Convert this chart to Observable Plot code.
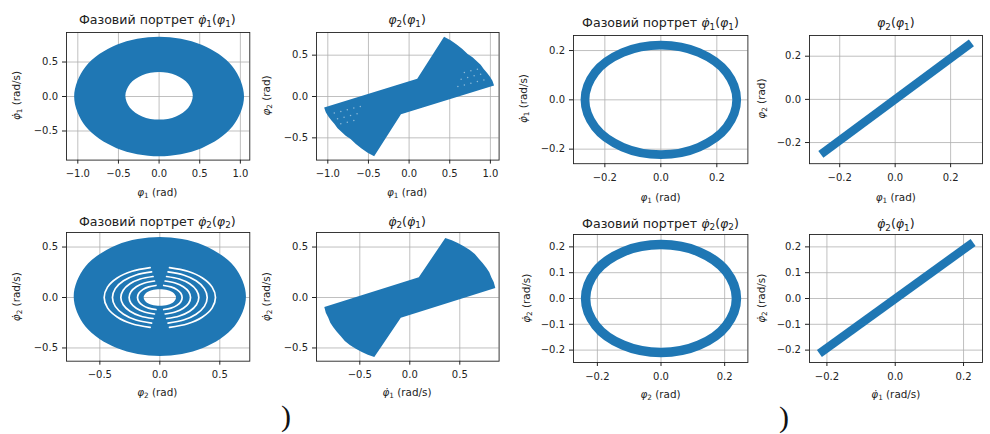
<!DOCTYPE html>
<html><head><meta charset="utf-8">
<script src="https://cdn.jsdelivr.net/npm/d3@7"></script>
<script src="https://cdn.jsdelivr.net/npm/@observablehq/plot@0.6"></script>
<style>
body{margin:0;background:#fff;}
#fig{position:relative;width:990px;height:434px;overflow:hidden;background:#fff;}
</style></head><body><div id="fig"></div>
<script>
// ---- data ----
const ticksWide = [-1, -0.5, 0, 0.5, 1];
const ticksHalf = [-0.5, 0, 0.5];
const ticksTwo = [-0.2, 0, 0.2];
const ticksTenth = [-0.2, -0.1, 0, 0.1, 0.2];

// panel 1: annulus phi1' vs phi1 (outer boundary, inner hole reversed)
const p1OuterX = [1.045, 0.905, 0.523, 0, -0.523, -0.905, -1.045, -0.905, -0.523, 0, 0.523, 0.905];
const p1OuterY = [0, 0.433, 0.749, 0.865, 0.749, 0.433, 0, -0.433, -0.749, -0.865, -0.749, -0.433];
const p1HoleX = [0.415, 0.359, 0.208, 0, -0.208, -0.359, -0.415, -0.359, -0.208, 0, 0.208, 0.359];
const p1HoleY = [0.01, -0.163, -0.289, -0.335, -0.289, -0.163, 0.01, 0.183, 0.309, 0.355, 0.309, 0.183];

// panel 2: phi2(phi1) outline and the light speckles inside its wedges
const p2EdgeX = [-1.045, 0.1, 0.43, 0.51, 0.585, 0.655, 0.72, 0.78, 0.83, 0.88, 0.92, 0.96, 0.995, 1.025, 1.045, -0.1, -0.43, -0.51, -0.585, -0.655, -0.72, -0.78, -0.83, -0.88, -0.92, -0.96, -0.995, -1.025];
const p2EdgeY = [-0.133, 0.215, 0.722, 0.68, 0.63, 0.575, 0.513, 0.475, 0.43, 0.385, 0.33, 0.285, 0.24, 0.19, 0.133, -0.215, -0.722, -0.68, -0.63, -0.575, -0.513, -0.475, -0.43, -0.385, -0.33, -0.285, -0.24, -0.19];
const p2SpeckX = [-0.92, -0.84, -0.76, -0.68, -0.6, -0.88, -0.8, -0.72, -0.64, -0.84, -0.76, -0.68, 0.92, 0.84, 0.76, 0.68, 0.6, 0.88, 0.8, 0.72, 0.64, 0.84, 0.76, 0.68];
const p2SpeckY = [-0.2, -0.18, -0.16, -0.14, -0.12, -0.27, -0.25, -0.23, -0.21, -0.33, -0.31, -0.29, 0.2, 0.18, 0.16, 0.14, 0.12, 0.27, 0.25, 0.23, 0.21, 0.33, 0.31, 0.29];

// panel 3: thin ring (centre line)
const p3RingX = [0.271, 0.235, 0.136, 0, -0.136, -0.235, -0.271, -0.235, -0.136, 0, 0.136, 0.235];
const p3RingY = [0, 0.111, 0.192, 0.222, 0.192, 0.111, 0, -0.111, -0.192, -0.222, -0.192, -0.111];

// panel 4: diagonal band
const p4BandX = [-0.268, 0.275];
const p4BandY = [-0.255, 0.262];

// panel 5: phi2' vs phi2 (outer, hole, and the white gaps between loops)
const p5OuterX = [0.718, 0.622, 0.359, 0, -0.359, -0.622, -0.718, -0.622, -0.359, 0, 0.359, 0.622];
const p5OuterY = [0.01, 0.305, 0.521, 0.6, 0.521, 0.305, 0.01, -0.285, -0.501, -0.58, -0.501, -0.285];
const p5HoleX = [0.135, 0.117, 0.068, 0, -0.068, -0.117, -0.135, -0.117, -0.068, 0, 0.068, 0.117];
const p5HoleY = [0, -0.041, -0.071, -0.082, -0.071, -0.041, 0, 0.041, 0.071, 0.082, 0.071, 0.041];
const p5GapRx = [0.186, 0.256, 0.325, 0.395, 0.464];
const p5GapRy = [0.121, 0.166, 0.211, 0.257, 0.3];
// unit arc template (left arc from top to bottom)
const arcU = [-0.174, -0.5, -0.766, -0.94, -1, -0.94, -0.766, -0.5, -0.174];
const arcV = [0.985, 0.866, 0.643, 0.342, 0, -0.342, -0.643, -0.866, -0.985];

// panel 6: phi2'(phi1') outline
const p6EdgeX = [-0.855, 0.09, 0.355, 0.42, 0.48, 0.54, 0.6, 0.65, 0.69, 0.73, 0.765, 0.795, 0.815, 0.84, 0.855, -0.09, -0.355, -0.42, -0.48, -0.54, -0.6, -0.65, -0.69, -0.73, -0.765, -0.795, -0.815, -0.84];
const p6EdgeY = [-0.095, 0.2, 0.59, 0.567, 0.54, 0.507, 0.47, 0.43, 0.385, 0.34, 0.295, 0.25, 0.2, 0.15, 0.095, -0.2, -0.59, -0.567, -0.54, -0.507, -0.47, -0.43, -0.385, -0.34, -0.295, -0.25, -0.2, -0.15];

// panel 7: thin ring (centre line)
const p7RingX = [0.237, 0.205, 0.119, 0, -0.119, -0.205, -0.237, -0.205, -0.119, 0, 0.119, 0.205];
const p7RingY = [0, 0.105, 0.181, 0.209, 0.181, 0.105, 0, -0.105, -0.181, -0.209, -0.181, -0.105];

// panel 8: diagonal band
const p8BandX = [-0.222, 0.228];
const p8BandY = [-0.213, 0.217];

// ---- helpers ----
const BLUE = "#1f77b4";
const fmt = d3.format(".1f");
const rows = (xs, ys) => xs.map((x, i) => ({x, y: ys[i]}));
const holed = (ox, oy, hx, hy) => [...rows(ox, oy), {x: NaN, y: NaN}, ...rows(hx, hy)];
const gapArcs = [];
p5GapRx.forEach((rx, k) => {
  arcU.forEach((u, j) => gapArcs.push({x: u * rx, y: arcV[j] * p5GapRy[k], arc: "L" + k}));
  arcU.forEach((u, j) => gapArcs.push({x: -u * rx, y: arcV[j] * p5GapRy[k], arc: "R" + k}));
});
const fig = document.getElementById("fig");

function panel(c) {
  const ML = 60, MR = 12, MT = 30, MB = 45;
  const w = c.r - c.l, h = c.b - c.t;
  const svg = Plot.plot({
    width: w + ML + MR, height: h + MT + MB,
    marginLeft: ML, marginRight: MR, marginTop: MT, marginBottom: MB,
    style: {background: "none", overflow: "visible", fontFamily: "DejaVu Sans", fontSize: "10px", color: "#222"},
    x: {domain: c.xd, ticks: c.xt, tickFormat: fmt, tickSize: 4, tickPadding: 6, label: null},
    y: {domain: c.yd, ticks: c.yt, tickFormat: fmt, tickSize: 4, tickPadding: 4.5, label: null},
    marks: [
      Plot.ruleX(c.xt, {stroke: "#b0b0b0", strokeWidth: 0.8}),
      Plot.ruleY(c.yt, {stroke: "#b0b0b0", strokeWidth: 0.8}),
      ...c.marks,
      Plot.frame({stroke: "#222", strokeWidth: 0.9})
    ]
  });
  svg.style.position = "absolute";
  svg.style.left = (c.l - ML) + "px";
  svg.style.top = (c.t - MT) + "px";
  fig.appendChild(svg);
}

const fillShape = (data, curve) => Plot.line(data, {x: "x", y: "y", fill: BLUE, stroke: "none", curve});
const ring = (data, sw) => Plot.line(data, {x: "x", y: "y", stroke: BLUE, strokeWidth: sw, curve: "catmull-rom-closed"});
const band = (data, sw) => Plot.line(data, {x: "x", y: "y", stroke: BLUE, strokeWidth: sw, strokeLinecap: "butt"});

panel({l: 65.7, r: 249, t: 31.7, b: 159.3, xd: [-1.139, 1.116], yd: [-0.922, 0.928], xt: ticksWide, yt: ticksHalf,
  marks: [fillShape(holed(p1OuterX, p1OuterY, p1HoleX, p1HoleY), "catmull-rom-closed")]});
panel({l: 315.7, r: 498.3, t: 31.7, b: 159.3, xd: [-1.139, 1.107], yd: [-0.769, 0.774], xt: ticksWide, yt: ticksHalf,
  marks: [fillShape(rows(p2EdgeX, p2EdgeY), "linear-closed"),
    Plot.dot(rows(p2SpeckX, p2SpeckY), {x: "x", y: "y", r: 0.75, fill: "white", fillOpacity: 0.5, stroke: "none"})]});
panel({l: 573.3, r: 747.7, t: 34.5, b: 162.7, xd: [-0.312, 0.311], yd: [-0.259, 0.261], xt: ticksTwo, yt: ticksTwo,
  marks: [ring(rows(p3RingX, p3RingY), 8.8)]});
panel({l: 809.3, r: 982.3, t: 34.5, b: 162.7, xd: [-0.309, 0.315], yd: [-0.298, 0.296], xt: ticksTwo, yt: ticksTwo,
  marks: [band(rows(p4BandX, p4BandY), 8.5)]});
panel({l: 65.7, r: 249, t: 232.3, b: 361, xd: [-0.778, 0.75], yd: [-0.631, 0.644], xt: ticksHalf, yt: ticksHalf,
  marks: [fillShape(holed(p5OuterX, p5OuterY, p5HoleX, p5HoleY), "catmull-rom-closed"),
    Plot.line(gapArcs, {x: "x", y: "y", z: "arc", stroke: "white", strokeWidth: 1.7, curve: "catmull-rom"})]});
panel({l: 315.7, r: 498.3, t: 232.3, b: 361, xd: [-0.933, 0.893], yd: [-0.631, 0.644], xt: ticksHalf, yt: ticksHalf,
  marks: [fillShape(rows(p6EdgeX, p6EdgeY), "linear-closed")]});
panel({l: 573.3, r: 747.7, t: 234.3, b: 362.3, xd: [-0.275, 0.273], yd: [-0.248, 0.248], xt: ticksTwo, yt: ticksTenth,
  marks: [ring(rows(p7RingX, p7RingY), 9.5)]});
panel({l: 809.3, r: 982.3, t: 234.3, b: 362.3, xd: [-0.251, 0.2555], yd: [-0.248, 0.248], xt: ticksTwo, yt: ticksTenth,
  marks: [band(rows(p8BandX, p8BandY), 8.5)]});

// ---- text overlay ----
const ov = d3.select(fig).append("svg").attr("width", 990).attr("height", 434)
  .style("position", "absolute").style("left", "0px").style("top", "0px");
function label(x, y, parts, size, rotate) {
  const t = ov.append("text").attr("font-family", "DejaVu Sans").attr("font-size", size)
    .attr("fill", "#222").attr("text-anchor", "middle");
  if (rotate) t.attr("transform", `translate(${x},${y}) rotate(-90)`); else t.attr("x", x).attr("y", y);
  let shifted = false;
  for (const [s, k] of parts) {
    const ts = t.append("tspan").text(s);
    if (k === "i") ts.attr("font-style", "italic");
    if (k === "s") { ts.attr("font-size", size * 0.7); if (!shifted) { ts.attr("dy", size * 0.22); shifted = true; } }
    else if (shifted) { ts.attr("dy", -size * 0.22); shifted = false; }
  }
}
const PHI = "φ", PHID = "φ\u0307";
const pre = "Фазовий портрет ";
const tPort1 = [[pre, ""], [PHID, "i"], ["1", "s"], ["(", ""], [PHI, "i"], ["1", "s"], [")", ""]];
const tPort2 = [[pre, ""], [PHID, "i"], ["2", "s"], ["(", ""], [PHI, "i"], ["2", "s"], [")", ""]];
const tPhi21 = [[PHI, "i"], ["2", "s"], ["(", ""], [PHI, "i"], ["1", "s"], [")", ""]];
const tDot21 = [[PHID, "i"], ["2", "s"], ["(", ""], [PHID, "i"], ["1", "s"], [")", ""]];
const lPhi1 = [[PHI, "i"], ["1", "s"], [" (rad)", ""]];
const lPhi2 = [[PHI, "i"], ["2", "s"], [" (rad)", ""]];
const lDot1 = [[PHID, "i"], ["1", "s"], [" (rad/s)", ""]];
const lDot2 = [[PHID, "i"], ["2", "s"], [" (rad/s)", ""]];

const TS = 12.6, LS = 10.4;
// titles
label(157.3, 24, tPort1, TS); label(407, 24, tPhi21, TS);
label(660.5, 27, tPort1, TS); label(895.8, 27, tPhi21, TS);
label(157.3, 225.5, tPort2, TS); label(407, 225.5, tDot21, TS);
label(660.5, 227.5, tPort2, TS); label(895.8, 228, tDot21, TS);
// x labels
label(157.3, 196, lPhi1, LS); label(407, 196, lPhi1, LS);
label(660.5, 201, lPhi1, LS); label(895.8, 201, lPhi1, LS);
label(157.3, 396, lPhi2, LS); label(407, 396, lDot1, LS);
label(660.5, 398, lPhi2, LS); label(895.8, 398, lDot1, LS);
// y labels
label(19.5, 95.5, lDot1, LS, true); label(270, 95.5, lPhi2, LS, true);
label(527, 98.6, lDot1, LS, true); label(765, 98.6, lPhi2, LS, true);
label(19.5, 296.7, lDot2, LS, true); label(270, 296.7, lDot2, LS, true);
label(529.5, 298.3, lDot2, LS, true); label(765, 298.3, lDot2, LS, true);
// caption remnants
ov.append("text").attr("x", 286).attr("y", 426).attr("text-anchor", "middle")
  .attr("font-family", "Liberation Serif").attr("font-size", 30).attr("fill", "#111").text(")");
ov.append("text").attr("x", 784).attr("y", 427).attr("text-anchor", "middle")
  .attr("font-family", "Liberation Serif").attr("font-size", 30).attr("fill", "#111").text(")");
</script></body></html>
